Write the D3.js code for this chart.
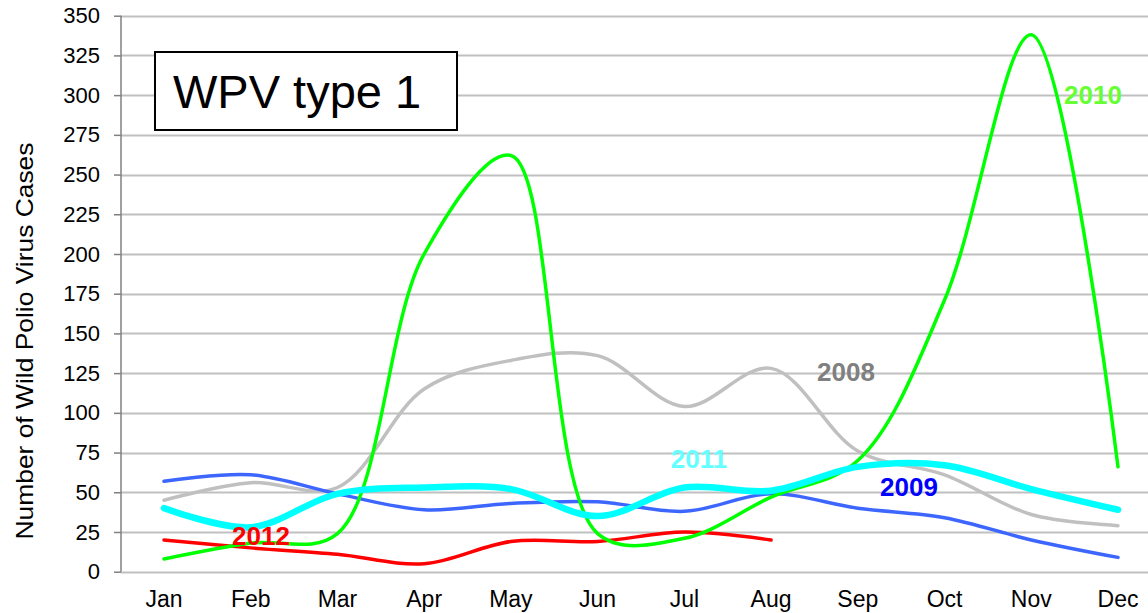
<!DOCTYPE html>
<html><head><meta charset="utf-8">
<script src="https://cdn.jsdelivr.net/npm/d3@7"></script>
<style>body{margin:0;background:#fff;} svg{display:block;font-family:"Liberation Sans",Arial,sans-serif;}</style>
</head><body>
<svg id="c" width="1148" height="613"></svg>
<script>
const months = ["Jan","Feb","Mar","Apr","May","Jun","Jul","Aug","Sep","Oct","Nov","Dec"];
const yTicks = [0,25,50,75,100,125,150,175,200,225,250,275,300,325,350];
const s2008 = [45,56,53,115,133,136,104,128,76,61,36,29];
const s2009 = [57,61,49,39,43,44,38,49,40,34,20,9];
const s2010 = [8,18,24,200,262,24,21,47,70,171,338,66];
const s2011 = [40,28,49,53,52,35,53,51,66,67,52,39];
const s2012 = [20,15,11,5,19,19,25,20];
const seriesNames = ["2008","2009","2010","2011","2012"];

const svg = d3.select("#c");
const x = d3.scalePoint().domain(months).range([164,1118]);
const y = d3.scaleLinear().domain([0,350]).range([571.7,15.7]);

// gridlines
svg.append("g").selectAll("line").data(yTicks).join("line")
  .attr("x1",121).attr("x2",1148)
  .attr("y1",d=>Math.round(y(d))+0.5).attr("y2",d=>Math.round(y(d))+0.5)
  .attr("stroke","#c0c0c0").attr("stroke-width",2);

// y axis
const ya = svg.append("g").attr("transform","translate(121,0)")
  .call(d3.axisLeft(y).tickValues(yTicks).tickSize(7).tickPadding(14).tickFormat(d3.format("d")));
ya.select(".domain").attr("stroke","#808080").attr("stroke-width",1.5).attr("d","M0,"+y(350)+"V"+y(0));
ya.selectAll(".tick line").attr("stroke","#808080").attr("stroke-width",1.5);
ya.selectAll("text").attr("font-size",22).attr("fill","#000").attr("font-family","Liberation Sans, Arial, sans-serif");

// x labels
svg.append("g").selectAll("text").data(months).join("text")
  .attr("x",d=>x(d)).attr("y",607).attr("text-anchor","middle")
  .attr("font-size",23).attr("fill","#000").text(d=>d);

// axis title
svg.append("text").attr("transform","translate(33,341) rotate(-90)")
  .attr("text-anchor","middle").attr("font-size",24).attr("fill","#000")
  .attr("textLength",397).attr("lengthAdjust","spacingAndGlyphs")
  .text("Number of Wild Polio Virus Cases");

const line = d3.line().x((d,i)=>x(months[i])).y(d=>y(d)).curve(d3.curveCatmullRom.alpha(0.5));

const specs = [
  {data:s2008,color:"#c0c0c0",w:3.5},
  {data:s2009,color:"#3d66ff",w:3.5},
  {data:s2012,color:"#ff0000",w:3.5},
  {data:s2010,color:"#00ff00",w:3.5},
  {data:s2011,color:"#00ffff",w:6.5}
];
specs.forEach(s=>{
  svg.append("path").attr("d",line(s.data)).attr("fill","none")
    .attr("stroke",s.color).attr("stroke-width",s.w).attr("stroke-linecap","round").attr("stroke-linejoin","round");
});

// series labels
const labels = [
  {t:seriesNames[0],x:846,y:381,c:"#808080"},
  {t:seriesNames[1],x:909,y:496,c:"#0000ff"},
  {t:seriesNames[2],x:1093,y:104,c:"#66ff33"},
  {t:seriesNames[3],x:699,y:468,c:"#66ffff"},
  {t:seriesNames[4],x:261,y:545,c:"#ff0000"}
];
svg.append("g").selectAll("text").data(labels).join("text")
  .attr("x",d=>d.x).attr("y",d=>d.y).attr("text-anchor","middle")
  .attr("font-size",26).attr("font-weight","bold").attr("fill",d=>d.c).text(d=>d.t);

// title box
svg.append("rect").attr("x",155).attr("y",52).attr("width",302).attr("height",78)
  .attr("fill","#fff").attr("stroke","#000").attr("stroke-width",2);
svg.append("text").attr("x",173).attr("y",108).attr("font-size",47).attr("fill","#000").text("WPV type 1");
</script>
</body></html>
